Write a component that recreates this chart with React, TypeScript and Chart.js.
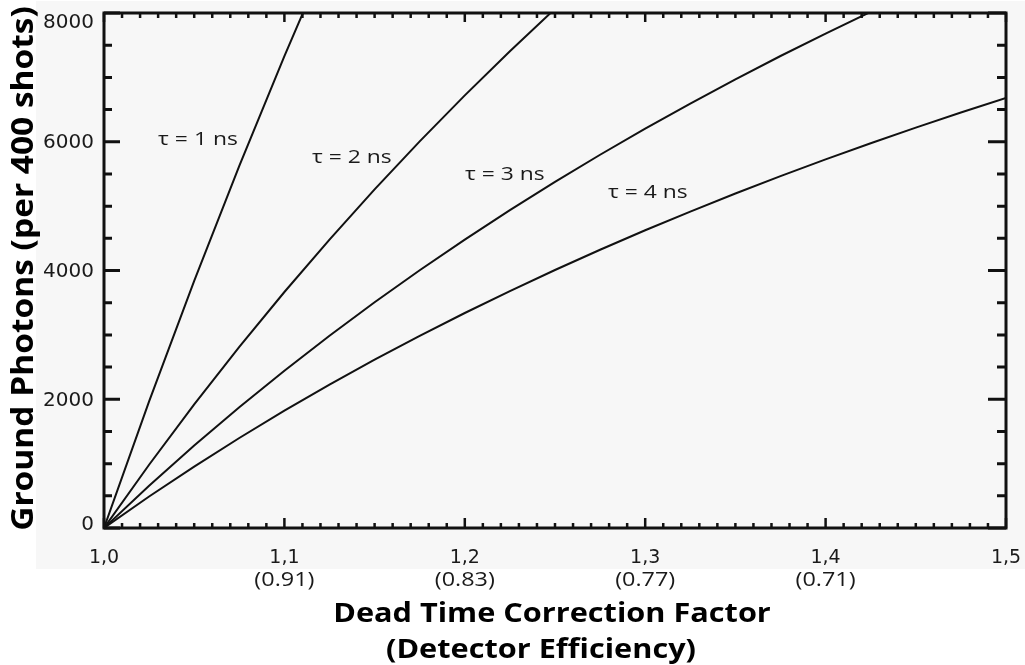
import React, { useEffect, useRef } from "react";
import { Chart, registerables } from "chart.js";

Chart.register(...registerables);

// Dead time correction factor (x) for each curve
const cfTau1 = [1.0, 1.025, 1.05, 1.075, 1.1, 1.125];
const cfTau2 = [1.0, 1.025, 1.05, 1.075, 1.1, 1.125, 1.15, 1.175, 1.2, 1.225, 1.25, 1.275];
const cfTau3 = [1.0, 1.025, 1.05, 1.075, 1.1, 1.125, 1.15, 1.175, 1.2, 1.225, 1.25, 1.275, 1.3, 1.325, 1.35, 1.375, 1.4, 1.425, 1.45];
const cfTau4 = [1.0, 1.025, 1.05, 1.075, 1.1, 1.125, 1.15, 1.175, 1.2, 1.225, 1.25, 1.275, 1.3, 1.325, 1.35, 1.375, 1.4, 1.425, 1.45, 1.475, 1.5];

// Ground photons (per 400 shots)
const photonsTau1 = [0, 1967, 3840, 5626, 7331, 8960];
const photonsTau2 = [0, 983, 1920, 2813, 3666, 4480, 5259, 6006, 6720, 7406, 8065, 8697];
const photonsTau3 = [0, 656, 1280, 1876, 2444, 2987, 3506, 4004, 4480, 4937, 5376, 5798, 6204, 6594, 6970, 7332, 7681, 8018, 8343];
const photonsTau4 = [0, 489, 954, 1398, 1822, 2227, 2614, 2985, 3340, 3681, 4008, 4322, 4625, 4915, 5196, 5465, 5726, 5977, 6219, 6454, 6680];

const curveLabels = ["τ = 1 ns", "τ = 2 ns", "τ = 3 ns", "τ = 4 ns"];
const labelCF = [1.03, 1.1153, 1.2001, 1.2794];
const labelPhotons = [5950, 5670, 5406, 5126];

const xTickValues = [1.0, 1.1, 1.2, 1.3, 1.4, 1.5];
const xTickLabels = ["1,0", "1,1", "1,2", "1,3", "1,4", "1,5"];
const xTickEfficiency = ["", "(0.91)", "(0.83)", "(0.77)", "(0.71)", ""];
const yTickValues = [0, 2000, 4000, 6000, 8000];
const yTickLabels = ["0", "2000", "4000", "6000", "8000"];

const xTitleLines = ["Dead Time Correction Factor", "(Detector Efficiency)"];
const yTitle = "Ground Photons (per 400 shots)";

const pts = (xs: number[], ys: number[]) => xs.map((x, i) => ({ x, y: ys[i] }));

function stretchText(ctx: CanvasRenderingContext2D, text: string, x: number, y: number, sx: number, align: CanvasTextAlign, rot = 0) {
  ctx.save();
  ctx.translate(x, y);
  if (rot) ctx.rotate(rot);
  ctx.scale(sx, 1);
  ctx.textAlign = align;
  ctx.textBaseline = "alphabetic";
  ctx.fillText(text, 0, 0);
  ctx.restore();
}

const decorPlugin = {
  id: "decor",
  beforeDraw(chart: any) {
    const ctx = chart.ctx as CanvasRenderingContext2D;
    ctx.save();
    ctx.fillStyle = "#f7f7f7";
    ctx.fillRect(36, 1, chart.width - 36, 568);
    ctx.restore();
  },
  afterDatasetsDraw(chart: any) {
    const ctx = chart.ctx as CanvasRenderingContext2D;
    const a = chart.chartArea;
    const xs = chart.scales.x;
    const ys = chart.scales.y;
    ctx.save();
    ctx.strokeStyle = "#111";
    ctx.fillStyle = "#1a1a1a";

    // y ticks (left & right)
    ctx.lineWidth = 3;
    for (let i = 0; i <= 16; i++) {
      const v = i * 500;
      const y = ys.getPixelForValue(v);
      const major = i % 4 === 0;
      ctx.beginPath();
      ctx.moveTo(a.left, y);
      ctx.lineTo(a.left + (major ? 16 : 8), y);
      ctx.moveTo(a.right, y);
      ctx.lineTo(a.right - (major ? 18 : 9), y);
      ctx.stroke();
    }
    // x ticks (bottom & top)
    ctx.lineWidth = 2.5;
    for (let i = 0; i <= 50; i++) {
      const v = 1 + i / 100;
      const x = xs.getPixelForValue(v);
      const major = i % 10 === 0;
      ctx.beginPath();
      ctx.moveTo(x, a.bottom);
      ctx.lineTo(x, a.bottom - (major ? 10 : 5));
      ctx.moveTo(x, a.top);
      ctx.lineTo(x, a.top + (major ? 9 : 5));
      ctx.stroke();
    }
    // frame
    ctx.lineWidth = 3;
    ctx.strokeRect(a.left, a.top, a.right - a.left, a.bottom - a.top);

    // y tick labels
    ctx.font = '20px "DejaVu Sans"';
    yTickValues.forEach((v, i) => {
      const y = ys.getPixelForValue(v);
      const base = Math.min(Math.max(y + 6.5, a.top + 15), a.bottom + 2);
      stretchText(ctx, yTickLabels[i], 94, base, 1, "right");
    });

    // x tick labels
    xTickValues.forEach((v, i) => {
      const x = xs.getPixelForValue(v);
      ctx.font = '19px "DejaVu Sans"';
      stretchText(ctx, xTickLabels[i], x, a.bottom + 35, 1, "center");
      if (xTickEfficiency[i]) {
        ctx.font = '19.5px "Open Sans"';
        stretchText(ctx, xTickEfficiency[i], x, a.bottom + 58, 1.2, "center");
      }
    });

    // curve labels
    ctx.font = '18px "Open Sans"';
    curveLabels.forEach((t, i) => {
      stretchText(ctx, t, xs.getPixelForValue(labelCF[i]), ys.getPixelForValue(labelPhotons[i]), 1.27, "left");
    });

    // axis titles
    ctx.fillStyle = "#000";
    ctx.font = 'bold 26px "Open Sans"';
    stretchText(ctx, xTitleLines[0], 552, 622, 1.18, "center");
    stretchText(ctx, xTitleLines[1], 541, 658, 1.18, "center");
    ctx.font = 'bold 31px "Open Sans"';
    stretchText(ctx, yTitle, 33, 268.5, 1.08, "center", -Math.PI / 2);

    ctx.restore();
  },
};

export default function App() {
  const ref = useRef<HTMLCanvasElement | null>(null);

  useEffect(() => {
    document.body.style.margin = "0";
    const canvas = ref.current;
    if (!canvas) return;
    const line = (data: { x: number; y: number }[]) => ({
      data,
      borderColor: "#111",
      borderWidth: 2,
      pointRadius: 0,
      tension: 0,
      fill: false,
      clip: 0,
    });
    const chart = new Chart(canvas, {
      type: "line",
      data: {
        datasets: [
          { label: curveLabels[0], ...line(pts(cfTau1, photonsTau1)) },
          { label: curveLabels[1], ...line(pts(cfTau2, photonsTau2)) },
          { label: curveLabels[2], ...line(pts(cfTau3, photonsTau3)) },
          { label: curveLabels[3], ...line(pts(cfTau4, photonsTau4)) },
        ],
      } as any,
      options: {
        responsive: false,
        animation: false,
        devicePixelRatio: 1,
        layout: { padding: { left: 104, top: 13, right: 19, bottom: 137 } },
        plugins: { legend: { display: false }, tooltip: { enabled: false } },
        scales: {
          x: { type: "linear", min: 1.0, max: 1.5, display: false },
          y: { type: "linear", min: 0, max: 8000, display: false },
        },
      } as any,
      plugins: [decorPlugin as any],
    });
    return () => chart.destroy();
  }, []);

  return <canvas ref={ref} width={1025} height={665} style={{ display: "block" }} />;
}
